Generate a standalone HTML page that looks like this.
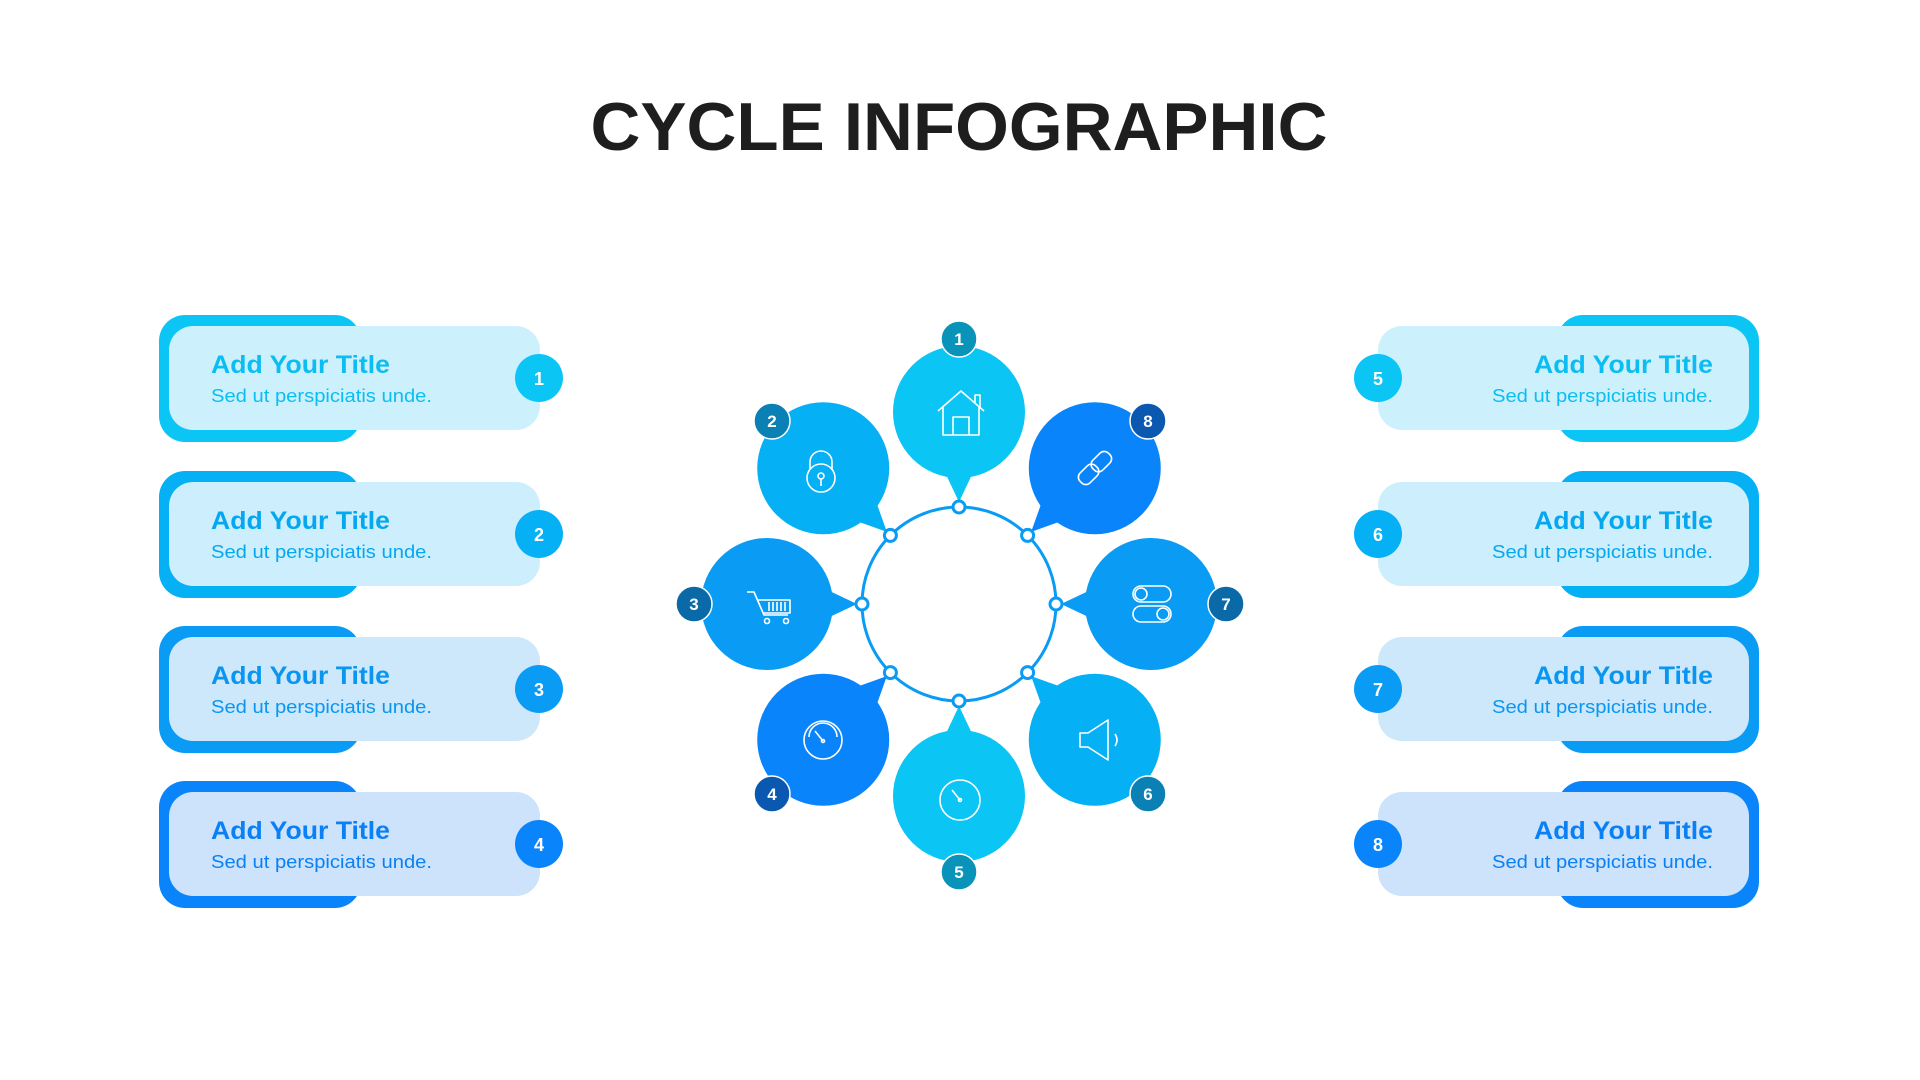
<!DOCTYPE html>
<html><head><meta charset="utf-8"><style>
html,body{margin:0;padding:0;background:#fff;}
svg{display:block;}
text{font-family:"Liberation Sans",sans-serif;}
</style></head><body>
<svg width="1920" height="1080" viewBox="0 0 1920 1080" xmlns="http://www.w3.org/2000/svg">
<rect width="1920" height="1080" fill="#fff"/>
<text x="959" y="150" text-anchor="middle" font-size="68" font-weight="bold" fill="#1e1e1e" textLength="737" lengthAdjust="spacingAndGlyphs">CYCLE INFOGRAPHIC</text>

<!-- Left cards -->
<g>
<rect x="159" y="315" width="202" height="127" rx="26" fill="#0bc5f5"/>
<rect x="169" y="326" width="371" height="104" rx="24" fill="#cdf1fc"/>
<circle cx="539" cy="378" r="24" fill="#0bc5f5"/>
<text x="539" y="385" text-anchor="middle" font-size="18" font-weight="bold" fill="#fff">1</text>
<text x="211" y="373" font-size="25" font-weight="bold" fill="#0bbdf2" textLength="179" lengthAdjust="spacingAndGlyphs">Add Your Title</text>
<text x="211" y="402" font-size="18" fill="#0bbdf2" textLength="221" lengthAdjust="spacingAndGlyphs">Sed ut perspiciatis unde.</text>

<rect x="159" y="471" width="202" height="127" rx="26" fill="#05b0f5"/>
<rect x="169" y="482" width="371" height="104" rx="24" fill="#cdeefc"/>
<circle cx="539" cy="534" r="24" fill="#05b0f5"/>
<text x="539" y="541" text-anchor="middle" font-size="18" font-weight="bold" fill="#fff">2</text>
<text x="211" y="529" font-size="25" font-weight="bold" fill="#05a8f0" textLength="179" lengthAdjust="spacingAndGlyphs">Add Your Title</text>
<text x="211" y="558" font-size="18" fill="#05a8f0" textLength="221" lengthAdjust="spacingAndGlyphs">Sed ut perspiciatis unde.</text>

<rect x="159" y="626" width="202" height="127" rx="26" fill="#0a9cf5"/>
<rect x="169" y="637" width="371" height="104" rx="24" fill="#cde8fb"/>
<circle cx="539" cy="689" r="24" fill="#0a9cf5"/>
<text x="539" y="696" text-anchor="middle" font-size="18" font-weight="bold" fill="#fff">3</text>
<text x="211" y="684" font-size="25" font-weight="bold" fill="#0a96f0" textLength="179" lengthAdjust="spacingAndGlyphs">Add Your Title</text>
<text x="211" y="713" font-size="18" fill="#0a96f0" textLength="221" lengthAdjust="spacingAndGlyphs">Sed ut perspiciatis unde.</text>

<rect x="159" y="781" width="202" height="127" rx="26" fill="#0a84fb"/>
<rect x="169" y="792" width="371" height="104" rx="24" fill="#cde2fb"/>
<circle cx="539" cy="844" r="24" fill="#0a84fb"/>
<text x="539" y="851" text-anchor="middle" font-size="18" font-weight="bold" fill="#fff">4</text>
<text x="211" y="839" font-size="25" font-weight="bold" fill="#0a80f5" textLength="179" lengthAdjust="spacingAndGlyphs">Add Your Title</text>
<text x="211" y="868" font-size="18" fill="#0a80f5" textLength="221" lengthAdjust="spacingAndGlyphs">Sed ut perspiciatis unde.</text>
</g>

<!-- Right cards -->
<g>
<rect x="1557" y="315" width="202" height="127" rx="26" fill="#0bc5f5"/>
<rect x="1378" y="326" width="371" height="104" rx="24" fill="#cdf1fc"/>
<circle cx="1378" cy="378" r="24" fill="#0bc5f5"/>
<text x="1378" y="385" text-anchor="middle" font-size="18" font-weight="bold" fill="#fff">5</text>
<text x="1713" y="373" text-anchor="end" font-size="25" font-weight="bold" fill="#0bbdf2" textLength="179" lengthAdjust="spacingAndGlyphs">Add Your Title</text>
<text x="1713" y="402" text-anchor="end" font-size="18" fill="#0bbdf2" textLength="221" lengthAdjust="spacingAndGlyphs">Sed ut perspiciatis unde.</text>

<rect x="1557" y="471" width="202" height="127" rx="26" fill="#05b0f5"/>
<rect x="1378" y="482" width="371" height="104" rx="24" fill="#cdeefc"/>
<circle cx="1378" cy="534" r="24" fill="#05b0f5"/>
<text x="1378" y="541" text-anchor="middle" font-size="18" font-weight="bold" fill="#fff">6</text>
<text x="1713" y="529" text-anchor="end" font-size="25" font-weight="bold" fill="#05a8f0" textLength="179" lengthAdjust="spacingAndGlyphs">Add Your Title</text>
<text x="1713" y="558" text-anchor="end" font-size="18" fill="#05a8f0" textLength="221" lengthAdjust="spacingAndGlyphs">Sed ut perspiciatis unde.</text>

<rect x="1557" y="626" width="202" height="127" rx="26" fill="#0a9cf5"/>
<rect x="1378" y="637" width="371" height="104" rx="24" fill="#cde8fb"/>
<circle cx="1378" cy="689" r="24" fill="#0a9cf5"/>
<text x="1378" y="696" text-anchor="middle" font-size="18" font-weight="bold" fill="#fff">7</text>
<text x="1713" y="684" text-anchor="end" font-size="25" font-weight="bold" fill="#0a96f0" textLength="179" lengthAdjust="spacingAndGlyphs">Add Your Title</text>
<text x="1713" y="713" text-anchor="end" font-size="18" fill="#0a96f0" textLength="221" lengthAdjust="spacingAndGlyphs">Sed ut perspiciatis unde.</text>

<rect x="1557" y="781" width="202" height="127" rx="26" fill="#0a84fb"/>
<rect x="1378" y="792" width="371" height="104" rx="24" fill="#cde2fb"/>
<circle cx="1378" cy="844" r="24" fill="#0a84fb"/>
<text x="1378" y="851" text-anchor="middle" font-size="18" font-weight="bold" fill="#fff">8</text>
<text x="1713" y="839" text-anchor="end" font-size="25" font-weight="bold" fill="#0a80f5" textLength="179" lengthAdjust="spacingAndGlyphs">Add Your Title</text>
<text x="1713" y="868" text-anchor="end" font-size="18" fill="#0a80f5" textLength="221" lengthAdjust="spacingAndGlyphs">Sed ut perspiciatis unde.</text>
</g>

<!-- Cycle -->
<defs>
<g id="petal">
<circle cx="0" cy="-192" r="66"/>
<polygon points="0,-102 -18,-140 18,-140"/>
</g>
</defs>
<g transform="translate(959,604)">
<use href="#petal" fill="#0bc5f5" transform="rotate(0)"/>
<use href="#petal" fill="#05b0f5" transform="rotate(-45)"/>
<use href="#petal" fill="#0a9cf5" transform="rotate(-90)"/>
<use href="#petal" fill="#0a84fb" transform="rotate(-135)"/>
<use href="#petal" fill="#0bc5f5" transform="rotate(180)"/>
<use href="#petal" fill="#05b0f5" transform="rotate(135)"/>
<use href="#petal" fill="#0a9cf5" transform="rotate(90)"/>
<use href="#petal" fill="#0a84fb" transform="rotate(45)"/>
<circle r="97" fill="none" stroke="#0a9cf5" stroke-width="3"/>
<g fill="#fff" stroke="#0a9cf5" stroke-width="3">
<circle cx="0" cy="-97" r="6"/><circle cx="-68.6" cy="-68.6" r="6"/><circle cx="-97" cy="0" r="6"/><circle cx="-68.6" cy="68.6" r="6"/>
<circle cx="0" cy="97" r="6"/><circle cx="68.6" cy="68.6" r="6"/><circle cx="97" cy="0" r="6"/><circle cx="68.6" cy="-68.6" r="6"/>
</g>
</g>

<!-- badges -->
<g stroke="#fff" stroke-width="1.5">
<circle cx="959" cy="339" r="18" fill="#0a93b8"/>
<circle cx="772" cy="421" r="18" fill="#0a80b5"/>
<circle cx="694" cy="604" r="18" fill="#0a6aa8"/>
<circle cx="772" cy="794" r="18" fill="#0a58b0"/>
<circle cx="959" cy="872" r="18" fill="#0a93b8"/>
<circle cx="1148" cy="794" r="18" fill="#0a80b5"/>
<circle cx="1226" cy="604" r="18" fill="#0a6aa8"/>
<circle cx="1148" cy="421" r="18" fill="#0a58b0"/>
</g>
<g font-size="17" font-weight="bold" fill="#fff" text-anchor="middle">
<text x="959" y="345">1</text><text x="772" y="427">2</text><text x="694" y="610">3</text><text x="772" y="800">4</text>
<text x="959" y="878">5</text><text x="1148" y="800">6</text><text x="1226" y="610">7</text><text x="1148" y="427">8</text>
</g>

<!-- icons -->
<g fill="none" stroke="#fff" stroke-width="1.6" stroke-linejoin="round">
<!-- house -->
<path d="M938 411 L961 391 L984 411 M943 407 V435 H979 V407 M953 435 V417 H969 V435 M975 403 V395 H980 V407"/>
<!-- lock -->
<circle cx="821" cy="478" r="14"/><path d="M810 470 V462 A11 11 0 0 1 832 462 V470"/><circle cx="821" cy="476" r="3"/><path d="M821 479 V486"/>
<!-- cart -->
<path d="M747 592 H754 L764 615 H788 M758 600 H790 V613 H764"/><circle cx="767" cy="621" r="2.5"/><circle cx="786" cy="621" r="2.5"/>
<path d="M769 602 V611 M773 602 V611 M777 602 V611 M781 602 V611 M785 602 V611"/>
<!-- gauge -->
<circle cx="823" cy="740" r="19"/><path d="M809 737 A14 14 0 0 1 837 737"/><path d="M815 731 L823 741"/><circle cx="823" cy="741" r="1.5"/>
<!-- stopwatch -->
<circle cx="960" cy="800" r="20"/><path d="M952 790 L960 800"/><circle cx="960" cy="800" r="1.5"/>
<!-- speaker -->
<path d="M1080 733 H1088 L1108 720 V760 L1088 747 H1080 Z"/><path d="M1115 734 Q1119 740 1115 746"/>
<!-- toggles -->
<rect x="1133" y="586" width="38" height="16" rx="8"/><circle cx="1141" cy="594" r="6"/>
<rect x="1133" y="606" width="38" height="16" rx="8"/><circle cx="1163" cy="614" r="6"/>
<!-- link -->
<g transform="rotate(-45 1095 468)"><rect x="1075" y="461" width="22" height="14" rx="6"/><rect x="1093" y="461" width="22" height="14" rx="6"/></g>
</g>
</svg>
</body></html>
